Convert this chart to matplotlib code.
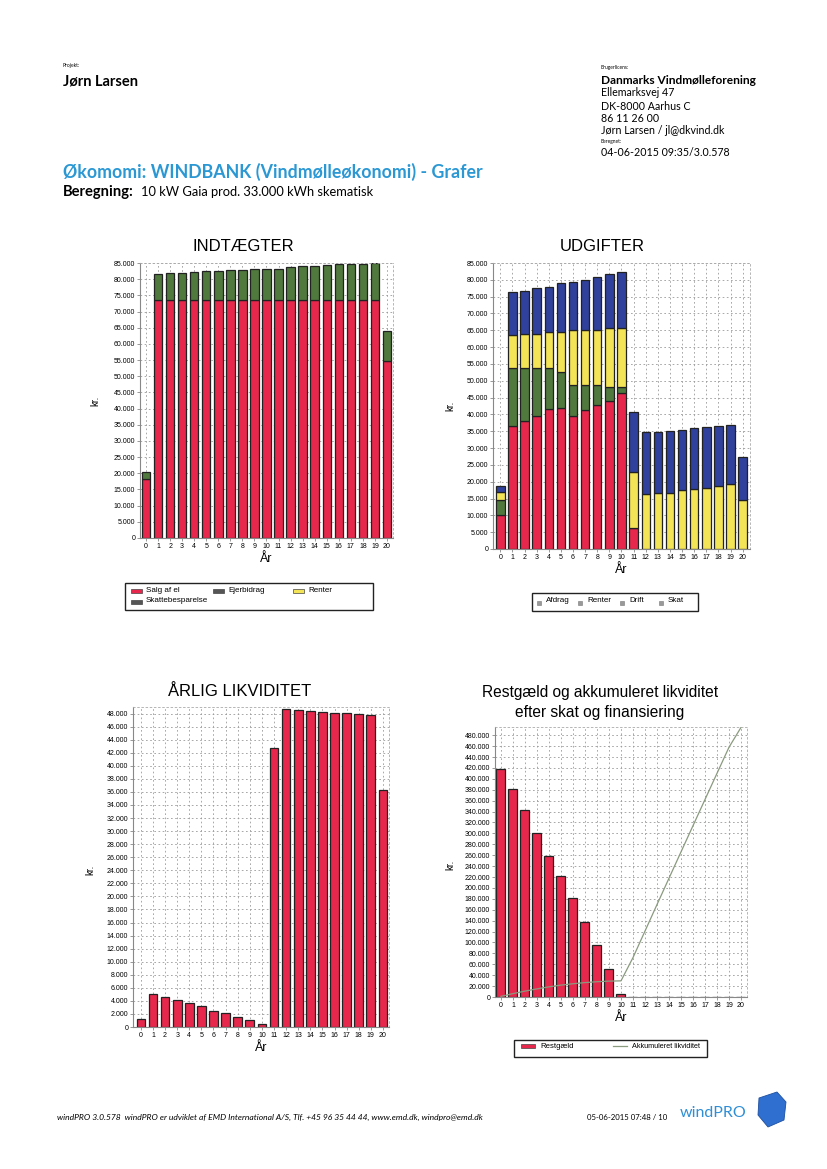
import matplotlib
matplotlib.use("Agg")
import matplotlib.pyplot as plt
from matplotlib.patches import Rectangle, Polygon
from matplotlib.lines import Line2D
from matplotlib.ticker import FuncFormatter, MultipleLocator
import numpy as np

# ---------------- data ----------------
years = list(range(21))
year_labels = [str(y) for y in years]

# INDTÆGTER
salg_af_el = [18300, 73500, 73500, 73500, 73500, 73500, 73500, 73500, 73500, 73500, 73500,
              73500, 73500, 73500, 73500, 73500, 73500, 73500, 73500, 73500, 54800]
ejerbidrag = [2200, 8200, 8400, 8400, 8700, 9000, 9000, 9200, 9200, 9500, 9800,
              9800, 10250, 10450, 10450, 11000, 11300, 11200, 11300, 11500, 9200]

# UDGIFTER
afdrag = [10200, 36500, 38100, 39600, 41500, 41800, 39400, 41200, 42700, 43900, 46500,
          6200, 0, 0, 0, 0, 0, 0, 0, 0, 0]
renter = [4300, 17400, 15800, 14300, 12400, 10900, 9400, 7600, 6100, 4300, 1700,
          0, 0, 0, 0, 0, 0, 0, 0, 0, 0]
drift = [2400, 9700, 10100, 10100, 10700, 11900, 16400, 16400, 16400, 17400, 17400,
         16700, 16200, 16600, 16600, 17400, 17800, 18000, 18600, 19200, 14500]
skat = [1900, 12700, 12800, 13500, 13400, 14400, 14300, 14800, 15500, 16100, 16600,
        17700, 18450, 18250, 18400, 17900, 18200, 18200, 18000, 17600, 12800]

# ÅRLIG LIKVIDITET
likviditet = [1200, 5000, 4600, 4100, 3700, 3200, 2500, 2100, 1600, 1100, 500,
              42650, 48650, 48550, 48350, 48200, 48050, 48050, 47950, 47850, 36300]

# Restgæld og akkumuleret likviditet
restgaeld = [418000, 381000, 342000, 301000, 259000, 221000, 181000, 137000, 95000, 51000, 5000,
             0, 0, 0, 0, 0, 0, 0, 0, 0, 0]
akkumuleret = [1200, 6200, 10800, 14900, 18600, 21800, 24300, 26400, 28000, 29100, 29600,
               72250, 120900, 169450, 217800, 266000, 314050, 362100, 410050, 457900, 494200]

# ---------------- style ----------------
W, H = 828, 1169
RED = "#e8274c"
GREEN = "#50793d"
YELLOW = "#f3e356"
BLUE = "#2f419c"
CF = ["Liberation Sans Narrow", "Liberation Sans", "DejaVu Sans"]
HF = ["Lato", "DejaVu Sans"]

plt.rcParams["font.family"] = CF

fig = plt.figure(figsize=(W / 100, H / 100), dpi=100)
fig.patch.set_facecolor("white")


def rect(left, top, right, bottom):
    return [left / W, 1 - bottom / H, (right - left) / W, (bottom - top) / H]


def fx(x):
    return x / W


def fy(y):
    return 1 - y / H


fmt = FuncFormatter(lambda v, p: f"{v:,.0f}".replace(",", "."))


def style_axes(ax, xlim, ylim, ystep, ylab_x, ylab_y=0.5):
    ax.set_xlim(*xlim)
    ax.set_ylim(*ylim)
    ax.set_xticks(years)
    ax.set_xticklabels(year_labels)
    ax.yaxis.set_major_locator(MultipleLocator(ystep))
    ax.yaxis.set_major_formatter(fmt)
    ax.tick_params(labelsize=5, length=2, pad=1.5, color="#888", width=0.6)
    ax.grid(True, ls=(0, (2, 3)), color="#9a9a9a", lw=0.6)
    ax.set_axisbelow(True)
    for s in ("left", "bottom"):
        ax.spines[s].set_color("#888")
        ax.spines[s].set_linewidth(0.8)
    for s in ("top", "right"):
        ax.spines[s].set_color("#aaa")
        ax.spines[s].set_linestyle((0, (2, 3)))
        ax.spines[s].set_linewidth(0.6)
    ax.set_xlabel("År", fontsize=9, labelpad=2.5)
    ax.set_ylabel("kr.", fontsize=7)
    ax.yaxis.set_label_coords(ylab_x, ylab_y)


# ---------------- header ----------------
fig.text(fx(63), fy(66), "Projekt:", fontsize=3.5, family=HF, va="center")
fig.text(fx(63), fy(81), "Jørn Larsen", fontsize=10.5, family=HF, weight="bold", va="center")
fig.text(fx(601), fy(67), "Brugerlicens:", fontsize=3.5, family=HF, va="center")
fig.text(fx(601), fy(80), "Danmarks Vindmølleforening", fontsize=8.6, family=HF, weight="bold", va="center")
fig.text(fx(601), fy(93), "Ellemarksvej 47", fontsize=7.7, family=HF, va="center")
fig.text(fx(601), fy(106), "DK-8000 Aarhus C", fontsize=7.7, family=HF, va="center")
fig.text(fx(601), fy(118), "86 11 26 00", fontsize=7.7, family=HF, va="center")
fig.text(fx(601), fy(131), "Jørn Larsen / jl@dkvind.dk", fontsize=7.7, family=HF, va="center")
fig.text(fx(601), fy(141), "Beregnet:", fontsize=3.5, family=HF, va="center")
fig.text(fx(601), fy(152), "04-06-2015 09:35/3.0.578", fontsize=7.7, family=HF, va="center")

fig.text(fx(63), fy(172), "Økomomi: WINDBANK (Vindmølleøkonomi) - Grafer", fontsize=12.8,
         family=HF, weight="bold", color="#2b98d4", va="center")
fig.text(fx(63), fy(192), "Beregning:", fontsize=10.6, family=HF, weight="bold", va="center")
fig.text(fx(141), fy(192), "10 kW Gaia prod. 33.000 kWh skematisk", fontsize=9.3, family=HF, va="center")

# ---------------- chart 1: INDTÆGTER ----------------
ax1 = fig.add_axes(rect(140, 263, 393, 538))
ax1.bar(years, salg_af_el, width=0.7, color=RED, edgecolor="#222", lw=0.9)
ax1.bar(years, ejerbidrag, bottom=salg_af_el, width=0.7, color=GREEN, edgecolor="#222", lw=0.9)
style_axes(ax1, (-0.5, 20.5), (0, 85000), 5000, -0.158)
fig.text(fx(243), fy(247), "INDTÆGTER", fontsize=12, ha="center", va="center")

# legend 1 (manual box)
fig.patches.append(Rectangle((fx(125), fy(610)), (373 - 125) / W, (610 - 583) / H,
                             transform=fig.transFigure, fill=False, ec="#222", lw=1))
leg1 = [(131, 591, RED, "Salg af el"), (213, 591, "#555", "Ejerbidrag"),
        (293, 591, YELLOW, "Renter"), (131, 602, "#555", "Skattebesparelse")]
for x, y, c, t in leg1:
    fig.patches.append(Rectangle((fx(x), fy(y + 2)), 11 / W, 4 / H, transform=fig.transFigure,
                                 fc=c, ec="#444", lw=0.5))
    fig.text(fx(x + 15), fy(y - 1), t, fontsize=5.8, va="center")

# ---------------- chart 2: UDGIFTER ----------------
ax2 = fig.add_axes(rect(493, 263, 750, 549))
b1 = np.array(afdrag)
b2 = b1 + np.array(renter)
b3 = b2 + np.array(drift)
ax2.bar(years, afdrag, width=0.7, color=RED, edgecolor="#222", lw=0.9)
ax2.bar(years, renter, bottom=b1, width=0.7, color=GREEN, edgecolor="#222", lw=0.9)
ax2.bar(years, drift, bottom=b2, width=0.7, color=YELLOW, edgecolor="#222", lw=0.9)
ax2.bar(years, skat, bottom=b3, width=0.7, color=BLUE, edgecolor="#222", lw=0.9)
style_axes(ax2, (-0.6, 20.6), (0, 85000), 5000, -0.148)
fig.text(fx(602), fy(247), "UDGIFTER", fontsize=12, ha="center", va="center")

fig.patches.append(Rectangle((fx(532), fy(611)), (698 - 532) / W, (611 - 593) / H,
                             transform=fig.transFigure, fill=False, ec="#222", lw=1))
leg2 = [(537, "Afdrag"), (578, "Renter"), (620, "Drift"), (659, "Skat")]
for x, t in leg2:
    fig.patches.append(Rectangle((fx(x), fy(605)), 4 / W, 4 / H, transform=fig.transFigure,
                                 fc="#999", ec="#777", lw=0.4))
    fig.text(fx(x + 9), fy(601), t, fontsize=5.8, va="center")

# ---------------- chart 3: ÅRLIG LIKVIDITET ----------------
ax3 = fig.add_axes(rect(133, 707, 389, 1027))
ax3.bar(years, likviditet, width=0.72, color=RED, edgecolor="#222", lw=0.9)
style_axes(ax3, (-0.65, 20.5), (0, 49000), 2000, -0.147, 0.49)
fig.text(fx(240), fy(692), "ÅRLIG LIKVIDITET", fontsize=12, ha="center", va="center")

# ---------------- chart 4: Restgæld og akkumuleret likviditet ----------------
ax4 = fig.add_axes(rect(495, 727, 747, 997))
ax4.bar(years, restgaeld, width=0.75, color=RED, edgecolor="#222", lw=0.9)
ax4.plot(years, akkumuleret, color="#8a9a7e", lw=0.9)
style_axes(ax4, (-0.5, 20.5), (0, 495000), 20000, -0.159, 0.49)
fig.text(fx(600), fy(692), "Restgæld og akkumuleret likviditet", fontsize=11.2, ha="center", va="center")
fig.text(fx(600), fy(712), "efter skat og finansiering", fontsize=11.2, ha="center", va="center")

fig.patches.append(Rectangle((fx(514), fy(1057)), (707 - 514) / W, (1057 - 1040) / H,
                             transform=fig.transFigure, fill=False, ec="#222", lw=1))
fig.patches.append(Rectangle((fx(521), fy(1048)), 14 / W, 4 / H, transform=fig.transFigure,
                             fc=RED, ec="#444", lw=0.5))
fig.text(fx(540), fy(1046), "Restgæld", fontsize=5.6, va="center")
fig.lines.append(Line2D([fx(613), fx(627)], [fy(1046), fy(1046)], transform=fig.transFigure,
                        color="#8a9a7e", lw=0.9))
fig.text(fx(632), fy(1046), "Akkumuleret likviditet", fontsize=5.2, va="center")

# ---------------- footer ----------------
fig.text(fx(57), fy(1117), "windPRO 3.0.578  windPRO er udviklet af EMD International A/S, "
         "Tlf. +45 96 35 44 44, www.emd.dk, windpro@emd.dk",
         fontsize=6.1, style="italic", family=HF, va="center")
fig.text(fx(587), fy(1117), "05-06-2015 07:48 / 10", fontsize=5.6, family=HF, va="center")
fig.text(fx(680), fy(1113), "windPRO", fontsize=11.5, family=HF, color="#2e8fd6", va="center")
fig.patches.append(Polygon([(fx(759), fy(1098)), (fx(777), fy(1092)), (fx(786), fy(1102)),
                            (fx(784), fy(1120)), (fx(768), fy(1127)), (fx(758), fy(1115))],
                           closed=True, transform=fig.transFigure, fc="#2f6fd0", ec="#1d4fa0", lw=0.6))

fig.savefig("out.png", dpi=100)
